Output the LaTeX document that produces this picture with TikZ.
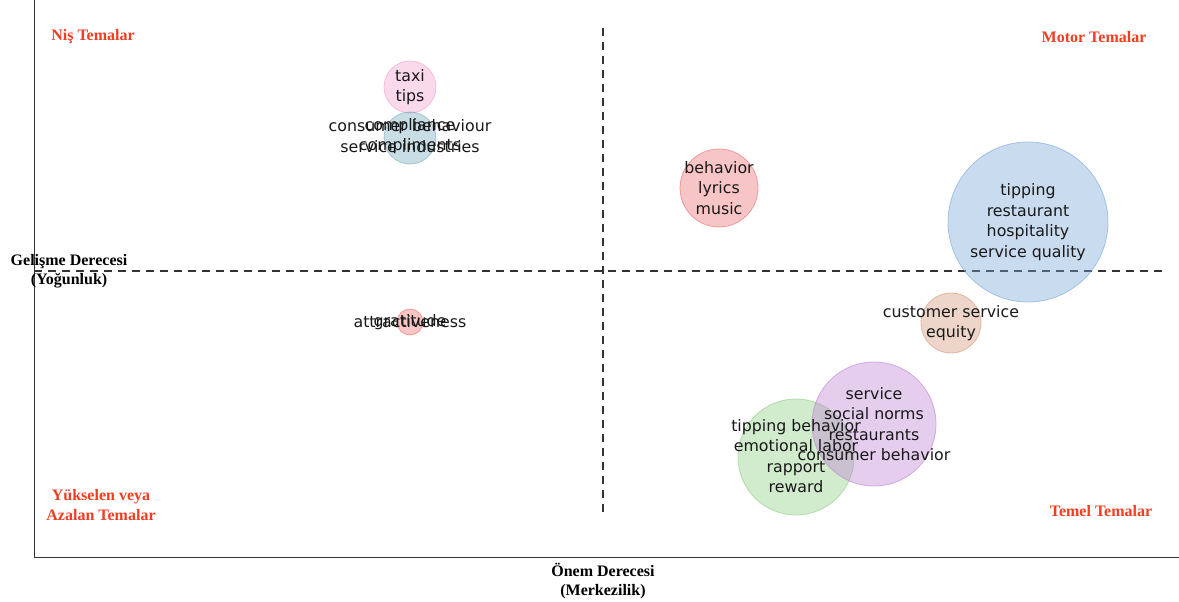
\documentclass[tikz,border=0pt]{standalone}
\usepackage{fontspec}
\setmainfont{Liberation Serif}
\newfontfamily\bubfont{DejaVu Sans}
\definecolor{lblred}{RGB}{240,62,34}
\definecolor{cpink}{RGB}{242,160,205}
\definecolor{cteal}{RGB}{120,170,190}
\definecolor{cred}{RGB}{235,110,110}
\definecolor{cblue}{RGB}{120,165,215}
\definecolor{ctan}{RGB}{210,150,120}
\definecolor{cpurple}{RGB}{190,130,210}
\definecolor{cgreen}{RGB}{140,205,130}
\tikzset{
  bubble/.style={circle, draw=#1, draw opacity=0.6, fill=#1, fill opacity=0.4, line width=0.8pt},
  btext/.style={font=\bubfont\fontsize{15.8}{20.5}\selectfont, align=center, text=black!90, inner sep=0pt},
  quad/.style={font=\bfseries\fontsize{16}{20}\selectfont, text=lblred, align=center, inner sep=0pt},
  axlbl/.style={font=\bfseries\fontsize{16}{19}\selectfont, text=black, align=center, inner sep=0pt},
  axis/.style={line width=0.9pt, draw=black!80},
  divider/.style={dashed, dash pattern=on 8pt off 6pt, line width=1.2pt, draw=black!80}
}
\begin{document}
\begin{tikzpicture}[x=1pt,y=-1pt]
\useasboundingbox (0,0) rectangle (1179,602);
% axes
\coordinate (o) at (34,557);
\coordinate (ytop) at (34,0);
\coordinate (xend) at (1179,557);
\draw[axis] (ytop) -- (o) -- (xend);
% dividers
\coordinate (vt) at (603,28);
\coordinate (vb) at (603,517);
\coordinate (hl) at (34,271);
\coordinate (hr) at (1166,271);
\draw[divider] (vt) -- (vb);
\draw[divider] (hl) -- (hr);
% bubbles
\node[bubble=cpink, minimum size=52pt] (b1) at (410,87) {};
\node[bubble=cteal, minimum size=52pt] (b2) at (410,138) {};
\node[bubble=cred, minimum size=78pt] (b3) at (719,188) {};
\node[bubble=cblue, minimum size=160pt] (b4) at (1028,222) {};
\node[bubble=ctan, minimum size=60pt] (b5) at (951,323) {};
\node[bubble=cgreen, minimum size=116pt] (b7) at (796,457) {};
\node[bubble=cpurple, minimum size=124pt] (b6) at (874,424) {};
\node[bubble=cred, minimum size=26pt] (b8) at (410,322) {};
% bubble texts
\node[btext] (t1) at (b1) {taxi\\tips};
\node[btext] (t2a) at (410,136) {consumer behaviour\\service industries};
\node[btext] (t2b) at (410,136) {compliance\\compliments};
\node[btext] (t3) at (b3) {behavior\\lyrics\\music};
\node[btext] (t4) at (b4) {tipping\\restaurant\\hospitality\\service quality};
\node[btext] (t5) at (b5) {customer service\\equity};
\node[btext] (t6) at (b6) {service\\social norms\\restaurants\\consumer behavior};
\node[btext] (t7) at (796,456) {tipping behavior\\emotional labor\\rapport\\reward};
\node[btext] (t8a) at (b8) {attractiveness};
\node[btext] (t8b) at (b8) {gratitude};
% quadrant labels
\node[quad] (q1) at (93,37) {Niş Temalar};
\node[quad] (q2) at (1094,37) {Motor Temalar};
\node[quad] (q3) at (101,505) {Yükselen veya\\Azalan Temalar};
\node[quad] (q4) at (1101,511) {Temel Temalar};
% axis labels
\node[axlbl] (ly) at (69,271) {Gelişme Derecesi\\(Yoğunluk)};
\node[axlbl] (lx) at (603,581) {Önem Derecesi\\(Merkezilik)};
\end{tikzpicture}
\end{document}
